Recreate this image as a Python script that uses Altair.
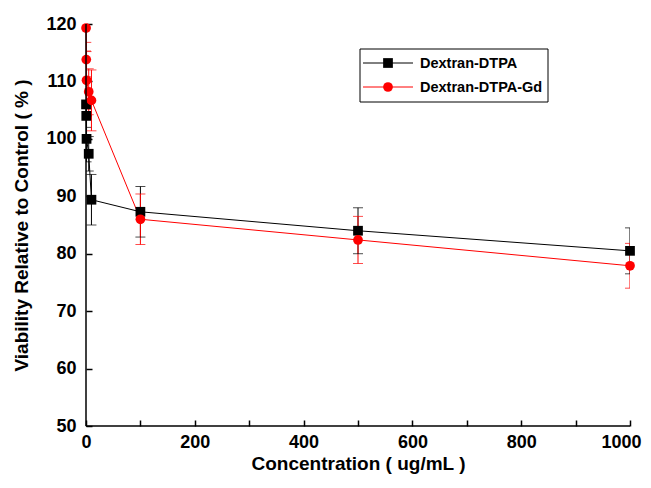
import altair as alt
import pandas as pd

conc = [0.1, 0.5, 1, 5, 10, 100, 500, 1000]
series_names = ["Dextran-DTPA", "Dextran-DTPA-Gd"]
dtpa_mean = [106.0, 104.0, 100.0, 97.4, 89.4, 87.3, 84.0, 80.5]
dtpa_err = [4.0, 4.0, 4.0, 3.0, 4.4, 4.4, 4.0, 4.0]
gd_mean = [119.3, 113.8, 110.2, 108.2, 106.7, 86.0, 82.4, 77.9]
gd_err = [4.0, 3.0, 5.0, 4.0, 5.3, 4.4, 4.1, 3.9]
colors = ["#000000", "#ff0000"]
shapes = ["square", "circle"]
x_ticks = [0, 100, 200, 300, 400, 500, 600, 700, 800, 900, 1000]
y_ticks = [50, 55, 60, 65, 70, 75, 80, 85, 90, 95, 100, 105, 110, 115, 120]

W, H = 544, 402
TICK = 6
FONT = "Liberation Sans"

rows = []
for name, means, errs in [(series_names[0], dtpa_mean, dtpa_err), (series_names[1], gd_mean, gd_err)]:
    for c, m, e in zip(conc, means, errs):
        rows.append({"series": name, "conc": c, "v": m, "lo": m - e, "hi": m + e})
df = pd.DataFrame(rows)

xs = alt.Scale(domain=[0, 1000], nice=False, padding=0)
ys = alt.Scale(domain=[50, 120], nice=False, padding=0)
cs = alt.Scale(domain=series_names, range=colors)
ss = alt.Scale(domain=series_names, range=shapes)

base = alt.Chart(df)
# axes shifted inward by the tick length so that ticks point into the plot
X = alt.X("conc:Q", scale=xs, axis=alt.Axis(
    values=x_ticks, ticks=True, tickSize=TICK, tickWidth=1.5, tickColor="black",
    offset=-TICK, domain=False, grid=False, labelFlush=False,
    labelExpr="datum.value % 200 === 0 ? datum.label : ''",
    labelOffset={"condition": {"test": "datum.value === 1000", "value": -9}, "value": 0},
    title="Concentration ( ug/mL )", labelPadding=7, titlePadding=3, format="d"))
Y = alt.Y("v:Q", scale=ys, axis=alt.Axis(
    values=y_ticks, ticks=True, tickSize=TICK, tickWidth=1.5, tickColor="black",
    offset=-TICK, domain=False, grid=False, labelFlush=False,
    labelExpr="datum.value % 10 === 0 ? datum.label : ''",
    title="Viability Relative to Control ( % )", labelPadding=10, titlePadding=14))
col = alt.Color("series:N", scale=cs, legend=None)

line = base.mark_line(strokeWidth=1).encode(x=X, y=Y, color=col, order="conc:Q")
err = base.mark_rule(strokeWidth=1, clip=True).encode(
    x=alt.X("conc:Q", scale=xs), y=alt.Y("lo:Q", scale=ys), y2="hi:Q", color=col)
cap_lo = base.mark_tick(orient="horizontal", size=10, thickness=1, clip=True).encode(
    x=alt.X("conc:Q", scale=xs), y=alt.Y("lo:Q", scale=ys), color=col)
cap_hi = base.mark_tick(orient="horizontal", size=10, thickness=1, clip=True).encode(
    x=alt.X("conc:Q", scale=xs), y=alt.Y("hi:Q", scale=ys), color=col)
pts = base.mark_point(filled=True, size=95, opacity=1).encode(
    x=alt.X("conc:Q", scale=xs), y=alt.Y("v:Q", scale=ys), color=col,
    shape=alt.Shape("series:N", scale=ss, legend=None))

# axis lines along the plot's left and bottom edges
one = pd.DataFrame({"k": [0]})
x_line = alt.Chart(one).mark_rule(color="black", strokeWidth=1.5).encode(
    x=alt.value(0), x2=alt.value(W), y=alt.value(H))
y_line = alt.Chart(one).mark_rule(color="black", strokeWidth=1.5).encode(
    x=alt.value(0), y=alt.value(0), y2=alt.value(H))

# legend
lbox = alt.Chart(one).mark_rect(fill="white", stroke="black", strokeWidth=1).encode(
    x=alt.value(274), x2=alt.value(462), y=alt.value(25), y2=alt.value(78))
legend_layers = [lbox]
for i, name in enumerate(series_names):
    ly = 39 + 24 * i
    ldf = pd.DataFrame({"series": [name]})
    lc = alt.Chart(ldf)
    legend_layers.append(lc.mark_rule(strokeWidth=1, color=colors[i]).encode(
        x=alt.value(277), x2=alt.value(327), y=alt.value(ly)))
    legend_layers.append(lc.mark_point(filled=True, size=95, opacity=1, color=colors[i], shape=shapes[i]).encode(
        x=alt.value(302), y=alt.value(ly)))
    legend_layers.append(lc.mark_text(align="left", baseline="middle", font=FONT, fontWeight="bold",
                                      fontSize=14.5, color="black").encode(
        x=alt.value(334), y=alt.value(ly + 1), text="series:N"))

chart = alt.layer(
    line, err, cap_lo, cap_hi, pts, x_line, y_line,
    *legend_layers
).properties(
    width=W, height=H,
    padding={"left": 78, "top": 16, "right": 13, "bottom": 49},
    autosize="none",
).configure_view(stroke=None).configure_axis(
    labelFont=FONT, labelFontWeight="bold", labelFontSize=18, labelColor="black",
    titleFont=FONT, titleFontWeight="bold", titleFontSize=19, titleColor="black",
)

chart.save("out.html", embed_options={"renderer": "svg", "actions": False})
